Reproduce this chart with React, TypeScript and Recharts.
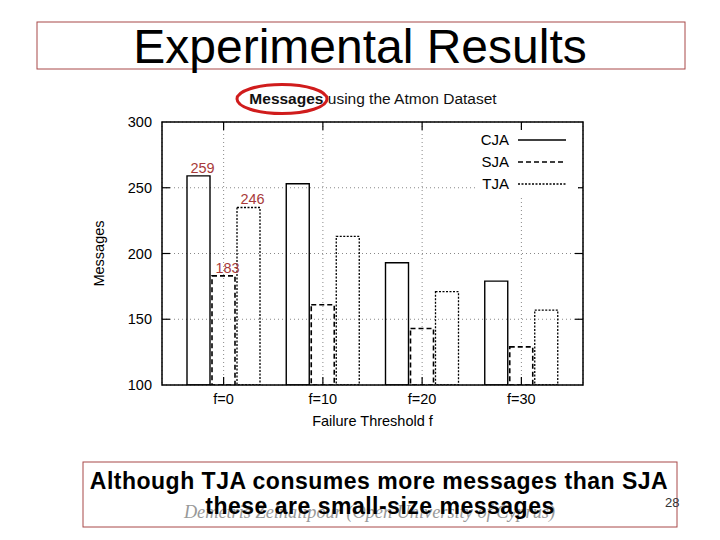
import React from 'react';
import { BarChart, Bar, XAxis, YAxis, CartesianGrid, Legend, LabelList } from 'recharts';

// ---- data ----
const categories = ['f=0', 'f=10', 'f=20', 'f=30'];
const cjaValues = [259, 253, 193, 179];
const sjaValues = [183, 161, 143, 129];
const tjaValues = [235, 213, 171, 157];
const cjaLabels = ['259', '', '', ''];
const sjaLabels = ['183', '', '', ''];
const tjaLabels = ['246', '', '', ''];
const yTicks = [100, 150, 200, 250, 300];
const seriesNames = ['CJA', 'SJA', 'TJA'];

const data = categories.map((c, i) => ({
  cat: c,
  CJA: cjaValues[i],
  SJA: sjaValues[i],
  TJA: tjaValues[i],
  cjaLabel: cjaLabels[i],
  sjaLabel: sjaLabels[i],
  tjaLabel: tjaLabels[i],
}));

// ---- layout / style ----
const W = 720;
const H = 540;
const PLOT_LEFT = 162;
const PLOT_RIGHT = 583;
const PLOT_TOP = 122;
const PLOT_BOTTOM = 385;
const SANS = '"Liberation Sans", Arial, Helvetica, sans-serif';
const SERIF = '"Liberation Serif", "Times New Roman", serif';
const LABEL_RED = '#a83a3a';
const BOX_RED = '#a84848';

const seriesStyle: Record<string, { dash?: string; width: number }> = {
  CJA: { dash: undefined, width: 1.4 },
  SJA: { dash: '5 3', width: 1.6 },
  TJA: { dash: '2 1.5', width: 1.3 },
};

const YTick = (props: any) => {
  const { y, payload } = props;
  const v = payload.value;
  return (
    <g>
      <text x={PLOT_LEFT - 10} y={y + 5} textAnchor="end" fontFamily={SANS} fontSize={14.5} fill="#000">
        {v}
      </text>
      {v > 100 && v < 300 && (
        <g stroke="#000" strokeWidth={1.2}>
          <line x1={PLOT_LEFT} x2={PLOT_LEFT + 8} y1={y} y2={y} />
          <line x1={PLOT_RIGHT - 8} x2={PLOT_RIGHT} y1={y} y2={y} />
        </g>
      )}
    </g>
  );
};

const XTick = (props: any) => {
  const { x, payload } = props;
  return (
    <g>
      <text x={x} y={404} textAnchor="middle" fontFamily={SANS} fontSize={14.5} fill="#000">
        {payload.value}
      </text>
      <g stroke="#000" strokeWidth={1.2}>
        <line x1={x} x2={x} y1={PLOT_TOP} y2={PLOT_TOP + 8} />
        <line x1={x} x2={x} y1={PLOT_BOTTOM - 8} y2={PLOT_BOTTOM} />
      </g>
    </g>
  );
};

const renderValueLabel = (props: any) => {
  const { x, y, width, value } = props;
  if (!value) return null;
  return (
    <text x={x + width / 2 + 4} y={y - 3} textAnchor="middle" fontFamily={SANS} fontSize={14.5} fill={LABEL_RED}>
      {value}
    </text>
  );
};

const LegendContent = () => (
  <div style={{ background: '#fff', width: 100, height: 66, position: 'relative', fontFamily: SANS }}>
    <svg width={100} height={66} style={{ display: 'block' }}>
      {seriesNames.map((name, i) => {
        const cy = 10 + i * 22;
        const st = seriesStyle[name];
        return (
          <g key={name}>
            <text x={31} y={cy + 5} textAnchor="end" fontSize={15} fill="#000" fontFamily={SANS}>
              {name}
            </text>
            <line x1={40} x2={88} y1={cy} y2={cy} stroke="#000" strokeWidth={st.width} strokeDasharray={st.dash} />
          </g>
        );
      })}
    </svg>
  </div>
);

export default function App() {
  return (
    <div style={{ position: 'absolute', left: 0, top: 0, width: W, height: H, background: '#fff', overflow: 'hidden' }}>
      <div style={{ position: 'absolute', left: 0, top: 0 }}>
        <BarChart
          width={W}
          height={H}
          data={data}
          margin={{ top: PLOT_TOP, right: W - PLOT_RIGHT, bottom: H - PLOT_BOTTOM - 30, left: PLOT_LEFT - 60 }}
          barGap={2}
          barCategoryGap={13}
        >
          <CartesianGrid stroke="#888" strokeDasharray="1 3" strokeWidth={1} />
          <XAxis
            dataKey="cat"
            height={30}
            padding={{ left: 12, right: 12 }}
            axisLine={false}
            tickLine={false}
            tick={<XTick />}
            interval={0}
            label={(p: any) => (
              <text x={(PLOT_LEFT + PLOT_RIGHT) / 2} y={426} textAnchor="middle" fontFamily={SANS} fontSize={14.5} fill="#000">
                Failure Threshold f
              </text>
            )}
          />
          <YAxis
            type="number"
            width={60}
            domain={[100, 300]}
            ticks={yTicks}
            interval={0}
            allowDataOverflow
            axisLine={false}
            tickLine={false}
            tick={<YTick />}
            label={(p: any) => {
              const cy = (PLOT_TOP + PLOT_BOTTOM) / 2;
              return (
                <text
                  x={104}
                  y={cy}
                  transform={`rotate(-90, 104, ${cy})`}
                  textAnchor="middle"
                  fontFamily={SANS}
                  fontSize={14.5}
                  fill="#000"
                >
                  Messages
                </text>
              );
            }}
          />
          <Legend
            layout="vertical"
            align="center"
            verticalAlign="middle"
            content={<LegendContent />}
            wrapperStyle={{ position: 'absolute', left: 478, top: 130, width: 100, height: 66 }}
          />
          {seriesNames.map((name) => {
            const st = seriesStyle[name];
            const labelKey = name === 'CJA' ? 'cjaLabel' : name === 'SJA' ? 'sjaLabel' : 'tjaLabel';
            return (
              <Bar
                key={name}
                dataKey={name}
                name={name}
                fill="none"
                stroke="#000"
                strokeWidth={st.width}
                strokeDasharray={st.dash}
                barSize={23}
                isAnimationActive={false}
              >
                <LabelList dataKey={labelKey} content={renderValueLabel} />
              </Bar>
            );
          })}
        </BarChart>
      </div>
      <svg
        width={W}
        height={H}
        style={{ position: 'absolute', left: 0, top: 0, pointerEvents: 'none' }}
      >
        {/* plot border */}
        <rect
          x={PLOT_LEFT}
          y={PLOT_TOP}
          width={PLOT_RIGHT - PLOT_LEFT}
          height={PLOT_BOTTOM - PLOT_TOP}
          fill="none"
          stroke="#000"
          strokeWidth={1.5}
        />
        {/* slide title */}
        <rect x={37} y={22} width={648} height={47} fill="none" stroke={BOX_RED} strokeWidth={1} />
        <text x={360} y={63} textAnchor="middle" fontFamily={SANS} fontSize={48} fill="#000">
          Experimental Results
        </text>
        {/* chart title */}
        <text x={373} y={104} textAnchor="middle" fontFamily={SANS} fontSize={15.5} fill="#111">
          <tspan fontWeight="bold">Messages</tspan> using the Atmon Dataset
        </text>
        <ellipse cx={282} cy={99} rx={45} ry={14.5} fill="none" stroke="#d01c1c" strokeWidth={3} />
        {/* bottom box */}
        <rect x={83} y={462} width={594} height={65} fill="none" stroke={BOX_RED} strokeWidth={1} />
        <text x={369.5} y={518} textAnchor="middle" fontFamily={SERIF} fontStyle="italic" fontSize={18.3} fill="#999">
          Demetris Zeinalipour (Open University of Cyprus)
        </text>
        <text x={379} y={489} textAnchor="middle" fontFamily={SANS} fontWeight="bold" fontSize={23} letterSpacing={0.5} fill="#000">
          Although TJA consumes more messages than SJA
        </text>
        <text x={380} y={514} textAnchor="middle" fontFamily={SANS} fontWeight="bold" fontSize={23} letterSpacing={0.5} fill="#000">
          these are small-size messages
        </text>
        <text x={665} y={507} fontFamily={SANS} fontSize={13} fill="#333">
          28
        </text>
      </svg>
    </div>
  );
}
